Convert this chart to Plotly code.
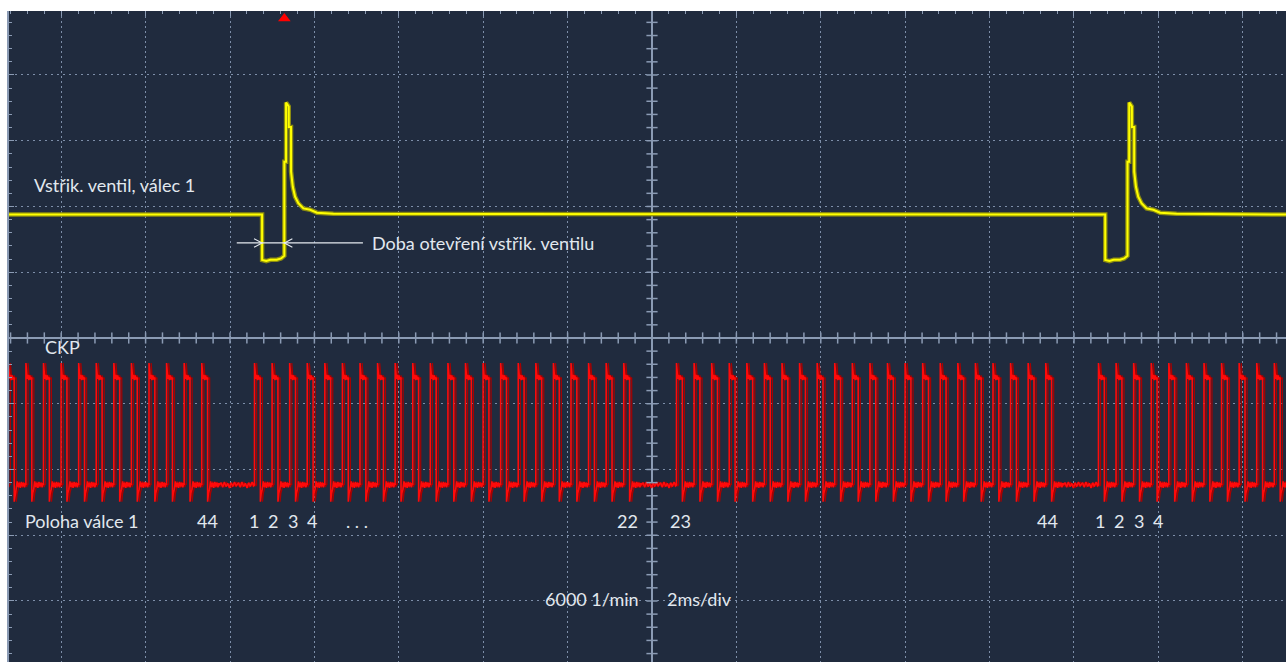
import numpy as np
import plotly.graph_objects as go

# ---------------- screen / time base ----------------
MS_PER_DIV = 2.0
X_RANGE = [-15.237, 15.024]      # ms, 0 = screen centre
Y_RANGE = [-4.928, 4.973]        # vertical divisions, 0 = screen centre

BG = "#202b3e"
GRID = "#7d8ea8"
AXIS = "#8b9bb4"
TEXT = "#e2e8ef"
FONT = "Lato"

# ---------------- injector valve, cylinder 1 (yellow) ----------------
inj_start_ms = [-9.24, 10.74]          # start of each opening (voltage drop)
inj_baseline = 1.878                   # div
inj_shape_t = [0.0, 0.001, 0.10, 0.20, 0.35, 0.45, 0.527, 0.528, 0.568, 0.569,
               0.632, 0.633, 0.686, 0.687, 0.728, 0.782, 0.86, 0.98, 1.14, 1.30, 1.69]
inj_shape_v = [1.878, 1.186, 1.17, 1.19, 1.19, 1.21, 1.25, 2.68, 2.68, 3.58,
               3.52, 3.21, 3.21, 2.53, 2.30, 2.15, 2.05, 1.97, 1.95, 1.906, 1.89]
inj_open_ms = 0.528                    # drop -> rise

# ---------------- crankshaft position sensor (red) ----------------
ckp_tooth1_ms = -9.42
ckp_cycle_ms = 20.0
ckp_slots = 48
ckp_missing_slots = [22, 23, 46, 47]
ckp_low = -2.236
tooth_t = [0.000, 0.001, 0.015, 0.030, 0.050, 0.070, 0.090, 0.110, 0.139, 0.140,
           0.160, 0.185, 0.210, 0.235, 0.260, 0.285, 0.310, 0.335, 0.360, 0.385, 0.405]
tooth_v = [-2.236, -0.38, -0.47, -0.62, -0.56, -0.64, -0.57, -0.63, -0.60, -2.49,
           -2.36, -2.30, -2.18, -2.27, -2.20, -2.28, -2.19, -2.26, -2.20, -2.27, -2.21]
gap_t = [0.0, 0.04, 0.08, 0.12, 0.16, 0.20, 0.24, 0.28, 0.32, 0.36, 0.40]
gap_v = [-2.236, -2.20, -2.27, -2.19, -2.26, -2.21, -2.28, -2.20, -2.26, -2.19, -2.25]

# ---------------- text ----------------
pos_labels = ["44", "1", "2", "3", "4", ". . .", "22", "23", "44", "1", "2", "3", "4"]
pos_label_ms = [-10.545, -9.431, -8.981, -8.507, -8.057, -6.991, -0.569, 0.687,
                9.384, 10.616, 11.066, 11.540, 11.991]
pos_label_y = -2.783


def injector_trace():
    xs, ys = [X_RANGE[0]], [inj_baseline]
    for t0 in inj_start_ms:
        for dt, v in zip(inj_shape_t, inj_shape_v):
            xs.append(t0 + dt)
            ys.append(v)
    xs.append(X_RANGE[1])
    ys.append(inj_baseline)
    return xs, ys


def ckp_trace(shift=0.0):
    slot = ckp_cycle_ms / ckp_slots
    xs, ys = [], []
    for cyc in (-1, 0, 1):
        for s in range(ckp_slots):
            t0 = ckp_tooth1_ms + cyc * ckp_cycle_ms + s * slot + shift
            if t0 + slot < X_RANGE[0] or t0 > X_RANGE[1]:
                continue
            if s in ckp_missing_slots:
                tt, vv = gap_t, gap_v
            else:
                tt, vv = tooth_t, tooth_v
            for dt, v in zip(tt, vv):
                xs.append(t0 + dt)
                ys.append(v)
    return xs, ys


fig = go.Figure()

# CKP: faint persistence copy, then the live trace
sx, sy = ckp_trace(0.05)
fig.add_trace(go.Scatter(x=sx, y=sy, mode="lines", line=dict(color="#a80000", width=1.2),
                         hoverinfo="skip"))
cx, cy = ckp_trace()
fig.add_trace(go.Scatter(x=cx, y=cy, mode="lines", line=dict(color="#ff0a0a", width=1.6),
                         hoverinfo="skip"))

# injector
ix, iy = injector_trace()
fig.add_trace(go.Scatter(x=ix, y=iy, mode="lines", line=dict(color="#8c8c10", width=4.5),
                         hoverinfo="skip"))
fig.add_trace(go.Scatter(x=ix, y=iy, mode="lines", line=dict(color="#ffff00", width=2),
                         hoverinfo="skip"))

# centre cross minor ticks
xt = np.arange(-38, 38) * 0.4
fig.add_trace(go.Scatter(x=xt, y=np.zeros_like(xt), mode="markers",
                         marker=dict(symbol="line-ns", size=8, line=dict(color=AXIS, width=1.5)),
                         hoverinfo="skip"))
yt = np.arange(-25, 26) * 0.2
fig.add_trace(go.Scatter(x=np.zeros_like(yt), y=yt, mode="markers",
                         marker=dict(symbol="line-ew", size=8, line=dict(color=AXIS, width=1.5)),
                         hoverinfo="skip"))

# opening-time marker: line with two inward chevrons
arr_y = 1.445
t_open0 = inj_start_ms[0]
t_open1 = inj_start_ms[0] + inj_open_ms
fig.add_trace(go.Scatter(x=[t_open0 - 0.6, -6.85], y=[arr_y, arr_y], mode="lines",
                         line=dict(color="#e6ebf0", width=1.3), hoverinfo="skip"))
ch_w, ch_h = 0.19, 0.065
fig.add_trace(go.Scatter(x=[t_open0 - ch_w, t_open0, t_open0 - ch_w, None,
                            t_open1 + ch_w, t_open1, t_open1 + ch_w],
                         y=[arr_y + ch_h, arr_y, arr_y - ch_h, None,
                            arr_y + ch_h, arr_y, arr_y - ch_h],
                         mode="lines", line=dict(color="#e6ebf0", width=1.1), hoverinfo="skip"))

# trigger marker
fig.add_trace(go.Scatter(x=[t_open1], y=[4.86], mode="markers", cliponaxis=False,
                         marker=dict(symbol="triangle-up", size=11, color="#ff0000",
                                     line=dict(width=0)),
                         hoverinfo="skip"))

ann = []
def label(text, x, y, anchor="left"):
    ann.append(dict(text=text, x=x, y=y, xref="x", yref="y", showarrow=False,
                    xanchor=anchor, yanchor="middle",
                    font=dict(family=FONT, size=18, color=TEXT)))

label("Vstřik. ventil, válec 1", -14.69, 2.327)
label("Doba otevření vstřik. ventilu", -6.682, 1.445)
label("CKP", -14.43, -0.137)
label("Poloha válce 1", -14.905, pos_label_y)
for t, x in zip(pos_labels, pos_label_ms):
    label(t, x, pos_label_y, anchor="center")
label("6000 1/min", -2.583, -3.975)
label("2ms/div", 0.308, -3.975)

fig.update_layout(
    width=1286, height=662,
    margin=dict(l=9, r=0, t=11, b=0),
    paper_bgcolor="white", plot_bgcolor=BG,
    showlegend=False,
    annotations=ann,
    xaxis=dict(range=X_RANGE, side="top", showticklabels=False,
               dtick=MS_PER_DIV, tick0=0, ticks="inside", ticklen=5, tickcolor=AXIS,
               minor=dict(dtick=0.4, ticks="inside", ticklen=3, tickcolor=AXIS, showgrid=False),
               showgrid=True, gridcolor=GRID, gridwidth=1, griddash="1.5px,3.5px",
               zeroline=True, zerolinecolor=AXIS, zerolinewidth=2,
               showline=False, fixedrange=True),
    yaxis=dict(range=Y_RANGE, showticklabels=False,
               dtick=1, tick0=0, ticks="inside", ticklen=5, tickcolor=AXIS,
               minor=dict(dtick=0.2, ticks="inside", ticklen=3, tickcolor=AXIS, showgrid=False),
               showgrid=True, gridcolor=GRID, gridwidth=1, griddash="2px,4px",
               zeroline=True, zerolinecolor=AXIS, zerolinewidth=2,
               showline=True, linecolor=AXIS, linewidth=2, fixedrange=True),
)

fig.write_html("out.html")
